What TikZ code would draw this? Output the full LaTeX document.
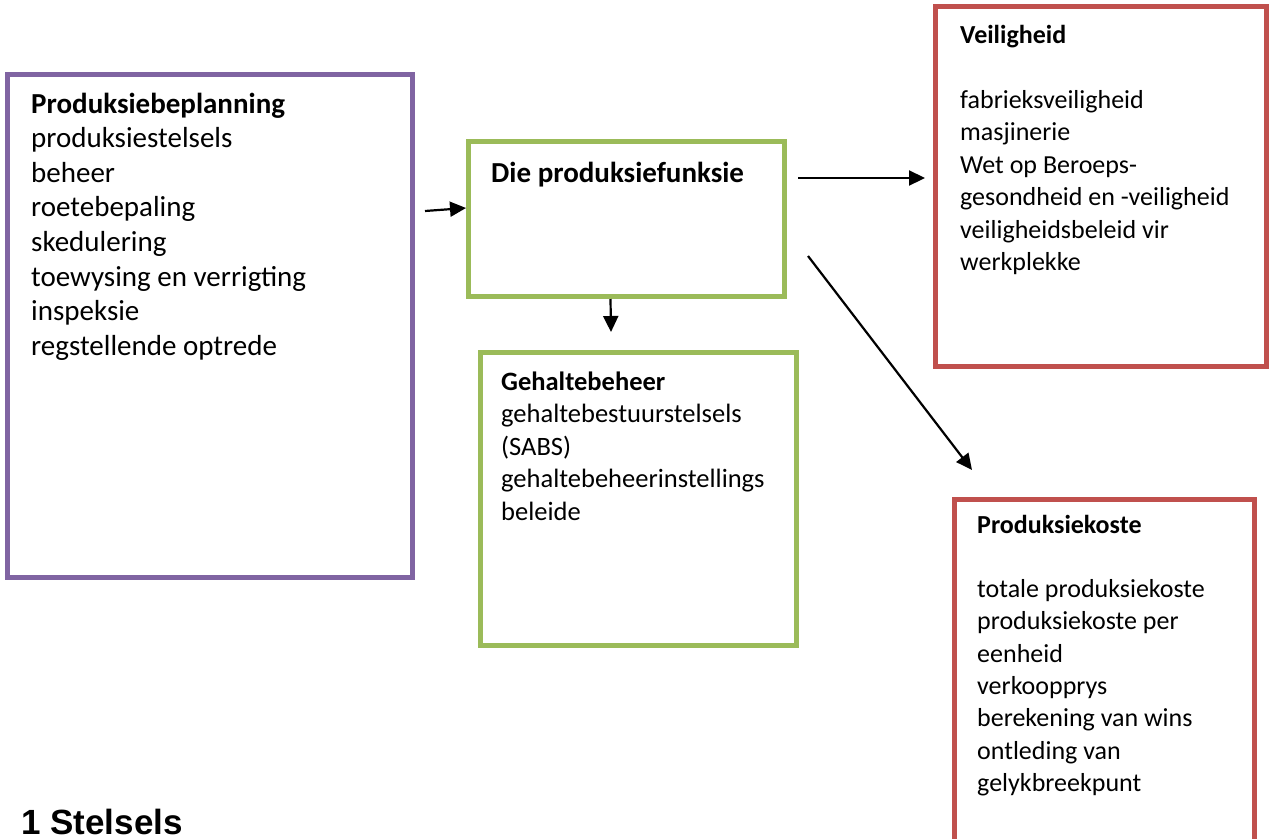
\documentclass[tikz,border=0pt]{standalone}
\usepackage{fontspec}
\setmainfont{Carlito}
\newfontfamily\headfont{Liberation Sans}
\usetikzlibrary{arrows.meta}

\definecolor{boxpurple}{HTML}{8064A2}
\definecolor{boxgreen}{HTML}{9BBB59}
\definecolor{boxred}{HTML}{C0504D}

\begin{document}
\begin{tikzpicture}[x=1pt,y=-1pt,
  framebox/.style={draw, line width=5pt, rectangle, inner sep=0pt, fill=white},
  blocktext/.style={anchor=base west, inner sep=0pt, align=left},
  link/.style={line width=2.2pt, -{Triangle[length=16pt,width=15pt]}}]

\useasboundingbox (0,0) rectangle (1269,838);

% outlined boxes
\node[framebox, draw=boxpurple, minimum width=405, minimum height=503] (plan) at (210,326) {};
\node[framebox, draw=boxgreen, minimum width=316, minimum height=155] (func) at (626.5,219) {};
\node[framebox, draw=boxgreen, minimum width=316, minimum height=293] (qual) at (638.5,499) {};
\node[framebox, draw=boxred, minimum width=330.5, minimum height=360] (safe) at (1100.75,186) {};
\node[framebox, draw=boxred, minimum width=300, minimum height=361] (cost) at (1104.5,679.5) {};

% box contents
\node[blocktext] (plantext) at (31,113) {\parbox[t]{370pt}{\fontsize{29}{34.6}\selectfont\raggedright
  \textbf{Produksiebeplanning}\\
  produksiestelsels\\
  beheer\\
  roetebepaling\\
  skedulering\\
  toewysing en verrigting\\
  inspeksie\\
  regstellende optrede}};

\node[blocktext] (functext) at (491,182) {\fontsize{29}{34.6}\selectfont\textbf{Die produksiefunksie}};

\node[blocktext] (qualtext) at (501,390) {\parbox[t]{290pt}{\fontsize{26.5}{32.5}\selectfont\raggedright
  \textbf{Gehaltebeheer}\\
  gehaltebestuurstelsels\\
  (SABS)\\
  gehaltebeheerinstellings\\
  beleide}};

\node[blocktext] (safetext) at (960,43) {\parbox[t]{300pt}{\fontsize{26}{32.5}\selectfont\raggedright
  \textbf{Veiligheid}\\[32.5pt]
  fabrieksveiligheid\\
  masjinerie\\
  Wet op Beroeps-\\
  gesondheid en -veiligheid\\
  veiligheidsbeleid vir\\
  werkplekke}};

\node[blocktext] (costtext) at (977,533) {\parbox[t]{270pt}{\fontsize{26}{32.3}\selectfont\raggedright
  \textbf{Produksiekoste}\\[32.3pt]
  totale produksiekoste\\
  produksiekoste per\\
  eenheid\\
  verkoopprys\\
  berekening van wins\\
  ontleding van\\
  gelykbreekpunt}};

% section heading
\node[anchor=base west, inner sep=0pt] (heading) at (21,834) {\headfont\fontsize{35}{40}\selectfont\bfseries 1 Stelsels};

% connectors
\coordinate (planout) at (425,211);
\coordinate (downend) at (611,332);
\coordinate (diagend) at (972,470);

\draw[link] (planout) -- ([yshift=11pt]func.west);
\draw[link] ([xshift=-16pt]func.south) -- (downend);
\draw[link, shorten >=8pt] ([xshift=11pt,yshift=41pt]func.east) -- ([yshift=8pt]safe.west);
\draw[link] ([xshift=21pt,yshift=-37pt]func.east) -- (diagend);

\end{tikzpicture}
\end{document}
